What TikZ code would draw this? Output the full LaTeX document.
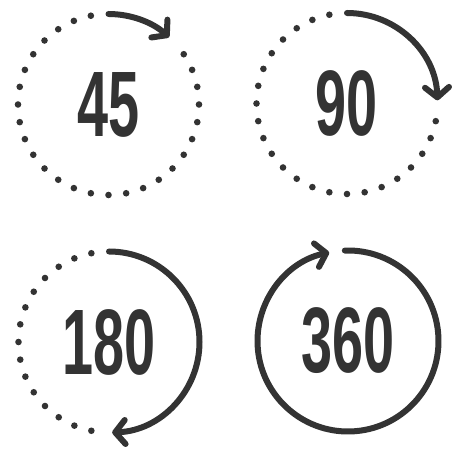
\documentclass[tikz,border=0pt]{standalone}
\usepackage{fontspec}
\usepackage{graphicx}
\setmainfont{Liberation Sans}
\usetikzlibrary{arrows.meta,calc}
\definecolor{ink}{HTML}{333333}
\tikzset{
  arr/.style={draw=ink, line width=6pt, line cap=round,
    -{Straight Barb[length=10pt, width=24pt, line width=6pt, round]}},
  dotc/.style={fill=ink},
  num/.style={text=ink, inner sep=0pt, font=\bfseries\fontsize{93}{93}\selectfont}
}
\newcommand{\cond}[1]{\scalebox{0.6}[1]{#1}}
\begin{document}
\begin{tikzpicture}[x=1pt,y=1pt]
\useasboundingbox (0,0) rectangle (457,452);
\def\R{90.5}
\coordinate (cA) at (108.5,347.5);
\coordinate (cB) at (347,348.5);
\coordinate (cC) at (109,110);
\coordinate (cD) at (348,111);
% 45
\foreach \k in {1,...,27} {\fill[dotc] ($(cA)+({90+11.25*\k}:\R)$) circle[radius=3.3];}
\draw[arr] ($(cA)+(90:\R)$) arc[start angle=90, end angle=48, radius=\R];
\node[num] (tA) at (cA) {\cond{45}};
% 90
\foreach \k in {1,...,23} {\fill[dotc] ($(cB)+({90+11.25*\k}:\R)$) circle[radius=3.3];}
\draw[arr] ($(cB)+(90:\R)$) arc[start angle=90, end angle=2, radius=\R];
\node[num] (tB) at (cB) {\cond{90}};
% 180
\foreach \k in {1,...,15} {\fill[dotc] ($(cC)+({90+11.25*\k}:\R)$) circle[radius=3.3];}
\draw[arr] ($(cC)+(90:\R)$) arc[start angle=90, end angle=-88, radius=\R];
\node[num] (tC) at (cC) {\cond{180}};
% 360
\draw[arr] ($(cD)+(92:\R)$) arc[start angle=92, end angle=-258, radius=\R];
\node[num] (tD) at (cD) {\cond{360}};
\end{tikzpicture}
\end{document}
